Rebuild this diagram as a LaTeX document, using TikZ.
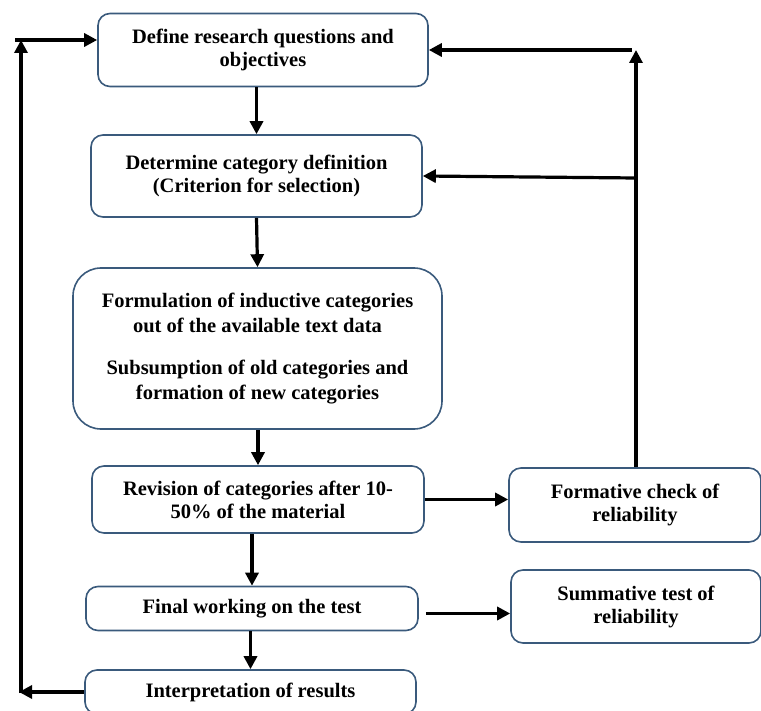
\documentclass[tikz,border=0pt]{standalone}
\usepackage{fontspec}
\setmainfont{Liberation Serif}
\usetikzlibrary{arrows.meta,calc}
\definecolor{boxline}{HTML}{3A5A7C}
\tikzset{
  box/.style={draw=boxline, line width=1.6pt, fill=white, rounded corners=12pt,
    align=center, inner sep=2pt, font=\fontsize{20.5}{23}\selectfont\bfseries},
  arr/.style={line width=3.2pt, -{Triangle[length=13pt,width=13pt]}}
}
\begin{document}
\begin{tikzpicture}[x=1pt,y=-1pt]
\useasboundingbox (0,0) rectangle (761,711);
\begin{scope}
\clip (0,0) rectangle (761,711);
\node[box, minimum width=330pt, minimum height=73pt] (b1) at (263,50)
  {Define research questions and\\objectives};
\node[box, minimum width=331pt, minimum height=82pt] (b2) at (256.5,176)
  {Determine category definition\\(Criterion for selection)};
\node[box, minimum width=369pt, minimum height=161pt, rounded corners=28pt,
  font=\fontsize{20.5}{25}\selectfont\bfseries] (b3) at (257.5,348.5)
  {Formulation of inductive categories\\out of the available text data\\[17pt]Subsumption of old categories and\\formation of new categories};
\node[box, minimum width=332pt, minimum height=67pt] (b4) at (258,499.5)
  {Revision of categories after 10-\\50\% of the material};
\node[box, minimum width=252pt, minimum height=74pt] (b5) at (635,505)
  {Formative check of\\reliability};
\node[box, minimum width=332pt, minimum height=44pt] (b6) at (252,608.5)
  {Final working on the test};
\node[box, minimum width=250pt, minimum height=73pt] (b7) at (636,606.5)
  {Summative test of\\reliability};
\node[box, minimum width=331pt, minimum height=44pt] (b8) at (250.5,692)
  {Interpretation of results};

\coordinate (tr) at (636,50);
\coordinate (trh) at (632,50);
\coordinate (mr) at (636,178);
\coordinate (bl) at (19,692);
\coordinate (blv) at (21,693);
\coordinate (tl) at (21,40);
\coordinate (tlh) at (15,40);
\coordinate (s6) at ($(b6.east)+(7,5)$);

\draw[arr] (b1.south -| b2.north) -- (b2.north);
\draw[arr] (b2.south) -- (b3.north);
\draw[arr] (b3.south -| b4.north) -- (b4.north);
\draw[arr] (b4.south -| b6.north) -- (b6.north);
\draw[arr] (b6.south -| b8.north) -- (b8.north);
\draw[arr] (b4.east) -- (b4.east -| b5.west);
\draw[arr] (s6) -- (s6 -| b7.west);
\draw[arr] (b5.north -| tr) -- (tr);
\draw[arr] (trh) -- (b1.east);
\draw[arr] (mr) -- (b2.east);
\draw[arr] (b8.west) -- (bl);
\draw[arr] (blv) -- (tl);
\draw[arr] (tlh) -- (tlh -| b1.west);
\end{scope}
\end{tikzpicture}
\end{document}
